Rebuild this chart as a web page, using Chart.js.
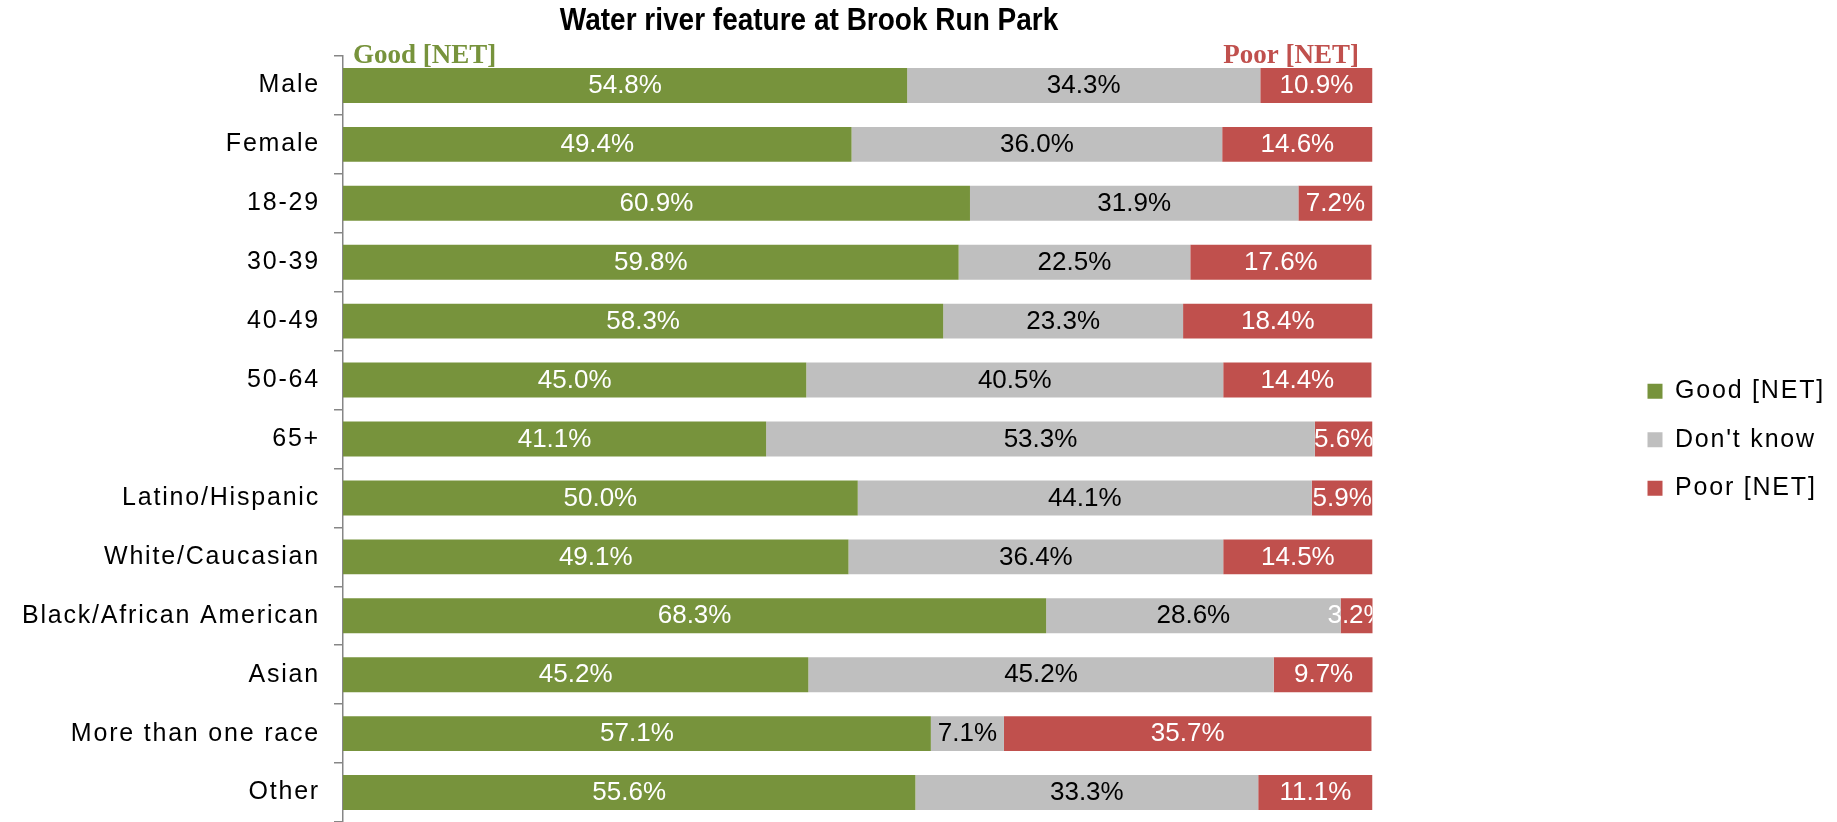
<!DOCTYPE html>
<html>
<head>
<meta charset="utf-8">
<title>Water river feature at Brook Run Park</title>
<script src="https://cdn.jsdelivr.net/npm/chart.js@4.4.1/dist/chart.umd.min.js"></script>
<style>
  html, body { margin: 0; padding: 0; background: #fff; overflow: hidden; }
  canvas { display: block; }
</style>
</head>
<body>
<canvas id="chart" width="1837" height="822"></canvas>
<script>
const chartTitle = 'Water river feature at Brook Run Park';
const categories = ['Male', 'Female', '18-29', '30-39', '40-49', '50-64', '65+',
    'Latino/Hispanic', 'White/Caucasian', 'Black/African American', 'Asian',
    'More than one race', 'Other'];
const seriesNames = ['Good [NET]', "Don't know", 'Poor [NET]'];
const goodValues     = [54.8, 49.4, 60.9, 59.8, 58.3, 45.0, 41.1, 50.0, 49.1, 68.3, 45.2, 57.1, 55.6];
const dontKnowValues = [34.3, 36.0, 31.9, 22.5, 23.3, 40.5, 53.3, 44.1, 36.4, 28.6, 45.2,  7.1, 33.3];
const poorValues     = [10.9, 14.6,  7.2, 17.6, 18.4, 14.4,  5.6,  5.9, 14.5,  3.2,  9.7, 35.7, 11.1];

const colors = ['#77933C', '#BFBFBF', '#C0504D'];
const textColors = ['#ffffff', '#000000', '#ffffff'];

// Excel-ish letter spacing on axis and legend text, labels drawn by hand without it
const overlay = {
    id: 'overlay',
    beforeLayout(chart) { chart.ctx.letterSpacing = '1.8px'; },
    beforeDraw(chart) { chart.ctx.letterSpacing = '1.8px'; },
    afterDatasetsDraw(chart) {
        const ctx = chart.ctx, area = chart.chartArea;
        ctx.save();
        ctx.letterSpacing = '0px';
        ctx.beginPath();
        ctx.rect(area.left, area.top, area.right - area.left, area.bottom - area.top);
        ctx.clip();
        ctx.font = '26px "Liberation Sans", Arial, sans-serif';
        ctx.textAlign = 'center';
        ctx.textBaseline = 'middle';
        chart.data.datasets.forEach((ds, i) => {
            chart.getDatasetMeta(i).data.forEach((bar, j) => {
                const p = bar.getProps(['x', 'y', 'base'], true);
                ctx.fillStyle = textColors[i];
                ctx.fillText(ds.data[j].toFixed(1) + '%', (p.x + p.base) / 2, p.y + 0.5);
            });
        });
        ctx.restore();
    },
    afterDraw(chart) {
        const ctx = chart.ctx;
        ctx.save();
        ctx.letterSpacing = '0px';
        ctx.textBaseline = 'alphabetic';

        ctx.save();
        ctx.font = 'bold 28px "Liberation Sans", Arial, sans-serif';
        ctx.fillStyle = '#000';
        ctx.textAlign = 'center';
        ctx.translate(809, 30);
        ctx.scale(1, 1.12);
        ctx.fillText(chartTitle, 0, 0);
        ctx.restore();

        ctx.font = 'bold 27px "Liberation Serif", "Times New Roman", serif';
        ctx.textAlign = 'left';
        ctx.fillStyle = colors[0];
        ctx.fillText(seriesNames[0], 353, 63);
        ctx.textAlign = 'right';
        ctx.fillStyle = colors[2];
        ctx.fillText(seriesNames[2], 1359, 63);
        ctx.restore();
    }
};

const barOpts = { categoryPercentage: 1, barPercentage: 0.593, borderWidth: 0 };

new Chart(document.getElementById('chart'), {
    type: 'bar',
    data: {
        labels: categories,
        datasets: [
            { label: seriesNames[0], data: goodValues, backgroundColor: colors[0], ...barOpts },
            { label: seriesNames[1], data: dontKnowValues, backgroundColor: colors[1], ...barOpts },
            { label: seriesNames[2], data: poorValues, backgroundColor: colors[2], ...barOpts }
        ]
    },
    options: {
        indexAxis: 'y',
        responsive: false,
        animation: false,
        layout: { padding: { top: 56, right: 2, bottom: -1.5, left: 0 } },
        plugins: {
            title: { display: false },
            tooltip: { enabled: false },
            legend: {
                position: 'right',
                maxWidth: 400,
                labels: {
                    boxWidth: 15,
                    boxHeight: 15,
                    padding: 23.5,
                    color: '#000',
                    font: { family: '"Liberation Sans", Arial, sans-serif', size: 25 }
                }
            }
        },
        scales: {
            x: { stacked: true, min: 0, max: 100, display: false },
            y: {
                stacked: true,
                afterFit: s => {
                    s.width = 343;
                    s.paddingTop = 0;
                    s.paddingBottom = 0;
                },
                grid: { drawOnChartArea: false, tickLength: 9, color: '#868686', lineWidth: 1.5 },
                border: { color: '#868686', width: 1.5 },
                ticks: {
                    padding: 14,
                    color: '#000',
                    font: { family: '"Liberation Sans", Arial, sans-serif', size: 25 }
                }
            },
            gap: {
                type: 'linear',
                axis: 'y',
                position: 'right',
                afterFit: s => { s.width = 251.5; },
                grid: { display: false },
                border: { display: false },
                ticks: { display: false }
            }
        }
    },
    plugins: [overlay]
});
</script>
</body>
</html>
